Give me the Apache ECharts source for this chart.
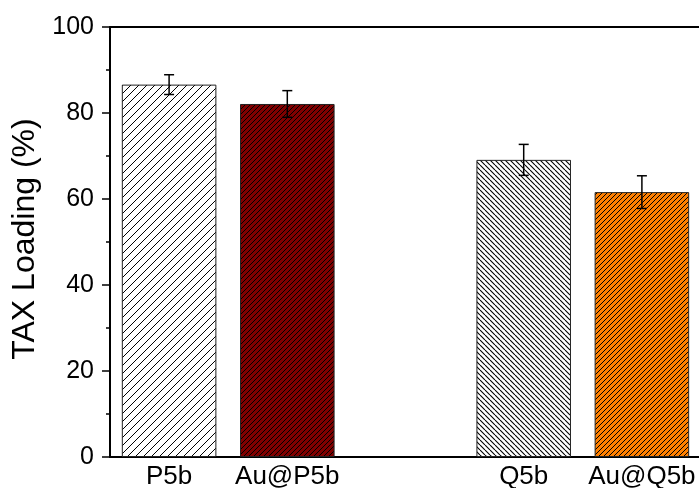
<!DOCTYPE html>
<html>
<head>
<meta charset="utf-8">
<script src="https://cdn.jsdelivr.net/npm/echarts@6/dist/echarts.min.js"></script>
<style>
html,body{margin:0;padding:0;background:#fff;}
#chart{width:699px;height:488px;}
</style>
</head>
<body>
<div id="chart"></div>
<script>
const categories = ['P5b', 'Au@P5b', '', 'Q5b', 'Au@Q5b'];
const values = [86.6, 82.1, null, 69.1, 61.6];
const errors = [2.3, 3.1, null, 3.6, 3.8];
const yTicks = [0, 20, 40, 60, 80, 100];

const FONT = "'Liberation Sans', Arial, sans-serif";

function hatch(bg, period, dir, lw, lineColor) {
  const c = document.createElement('canvas');
  c.width = period; c.height = period;
  const ctx = c.getContext('2d');
  ctx.fillStyle = bg;
  ctx.fillRect(0, 0, period, period);
  ctx.strokeStyle = lineColor;
  ctx.lineWidth = lw;
  ctx.beginPath();
  for (let k = -1; k <= 1; k++) {
    if (dir === '/') {
      ctx.moveTo(k * period, period);
      ctx.lineTo(k * period + period, 0);
    } else {
      ctx.moveTo(k * period, 0);
      ctx.lineTo(k * period + period, period);
    }
  }
  ctx.stroke();
  return { image: c, repeat: 'repeat' };
}

const fills = [
  hatch('#ffffff', 8, '/', 1, '#000'),
  hatch('#800000', 5, '/', 1, '#000'),
  null,
  hatch('#ffffff', 5, '\\', 1.1, '#000'),
  hatch('#ff8000', 5, '/', 1, '#000')
];

const barData = values.map((v, i) => v == null ? '-' : {
  value: v,
  itemStyle: { color: fills[i], borderColor: '#222', borderWidth: 1 }
});

const errData = [];
values.forEach((v, i) => { if (v != null) errData.push([i, v, errors[i]]); });

const chart = echarts.init(document.getElementById('chart'), null, { renderer: 'canvas' });
chart.setOption({
  animation: false,
  backgroundColor: '#fff',
  grid: { left: 110, right: -2, top: 27, bottom: 31, containLabel: false, outerBoundsMode: 'none' },
  xAxis: [{
    type: 'category',
    data: categories,
    position: 'bottom',
    axisLine: { show: true, lineStyle: { color: '#000', width: 2 } },
    axisTick: { show: false },
    axisLabel: { color: '#000', fontSize: 26, fontFamily: FONT, margin: 7, interval: 0 },
    splitLine: { show: false }
  }, {
    type: 'category',
    data: categories,
    position: 'top',
    axisLine: { show: true, onZero: false, lineStyle: { color: '#000', width: 2 } },
    axisTick: { show: false },
    axisLabel: { show: false },
    splitLine: { show: false }
  }],
  yAxis: {
    type: 'value',
    min: 0, max: 100, interval: 20,
    name: 'TAX Loading (%)',
    nameLocation: 'middle',
    nameGap: 60,
    nameRotate: 90,
    nameTextStyle: { color: '#000', fontSize: 32, fontFamily: FONT, padding: [0, 0, 0, 6] },
    axisLine: { show: true, lineStyle: { color: '#000', width: 2 } },
    axisTick: { show: true, inside: false, length: 8, lineStyle: { color: '#000', width: 1.5 } },
    minorTick: { show: true, splitNumber: 2, length: 4, lineStyle: { color: '#000', width: 1.5 } },
    axisLabel: { color: '#000', fontSize: 25, fontFamily: FONT, margin: 16,
      formatter: v => yTicks.includes(v) ? String(v) : '' },
    splitLine: { show: false }
  },
  series: [{
    type: 'bar',
    data: barData,
    barWidth: '80%',
    xAxisIndex: 0
  }, {
    type: 'custom',
    xAxisIndex: 0,
    data: errData,
    z: 10,
    renderItem: function (params, api) {
      const x = api.value(0), y = api.value(1), e = api.value(2);
      const top = api.coord([x, y + e]);
      const bot = api.coord([x, y - e]);
      const hw = 5;
      const style = { stroke: '#000', lineWidth: 1.5 };
      return {
        type: 'group',
        children: [
          { type: 'line', shape: { x1: top[0], y1: top[1], x2: bot[0], y2: bot[1] }, style },
          { type: 'line', shape: { x1: top[0] - hw, y1: top[1], x2: top[0] + hw, y2: top[1] }, style },
          { type: 'line', shape: { x1: bot[0] - hw, y1: bot[1], x2: bot[0] + hw, y2: bot[1] }, style }
        ]
      };
    }
  }]
});
</script>
</body>
</html>
